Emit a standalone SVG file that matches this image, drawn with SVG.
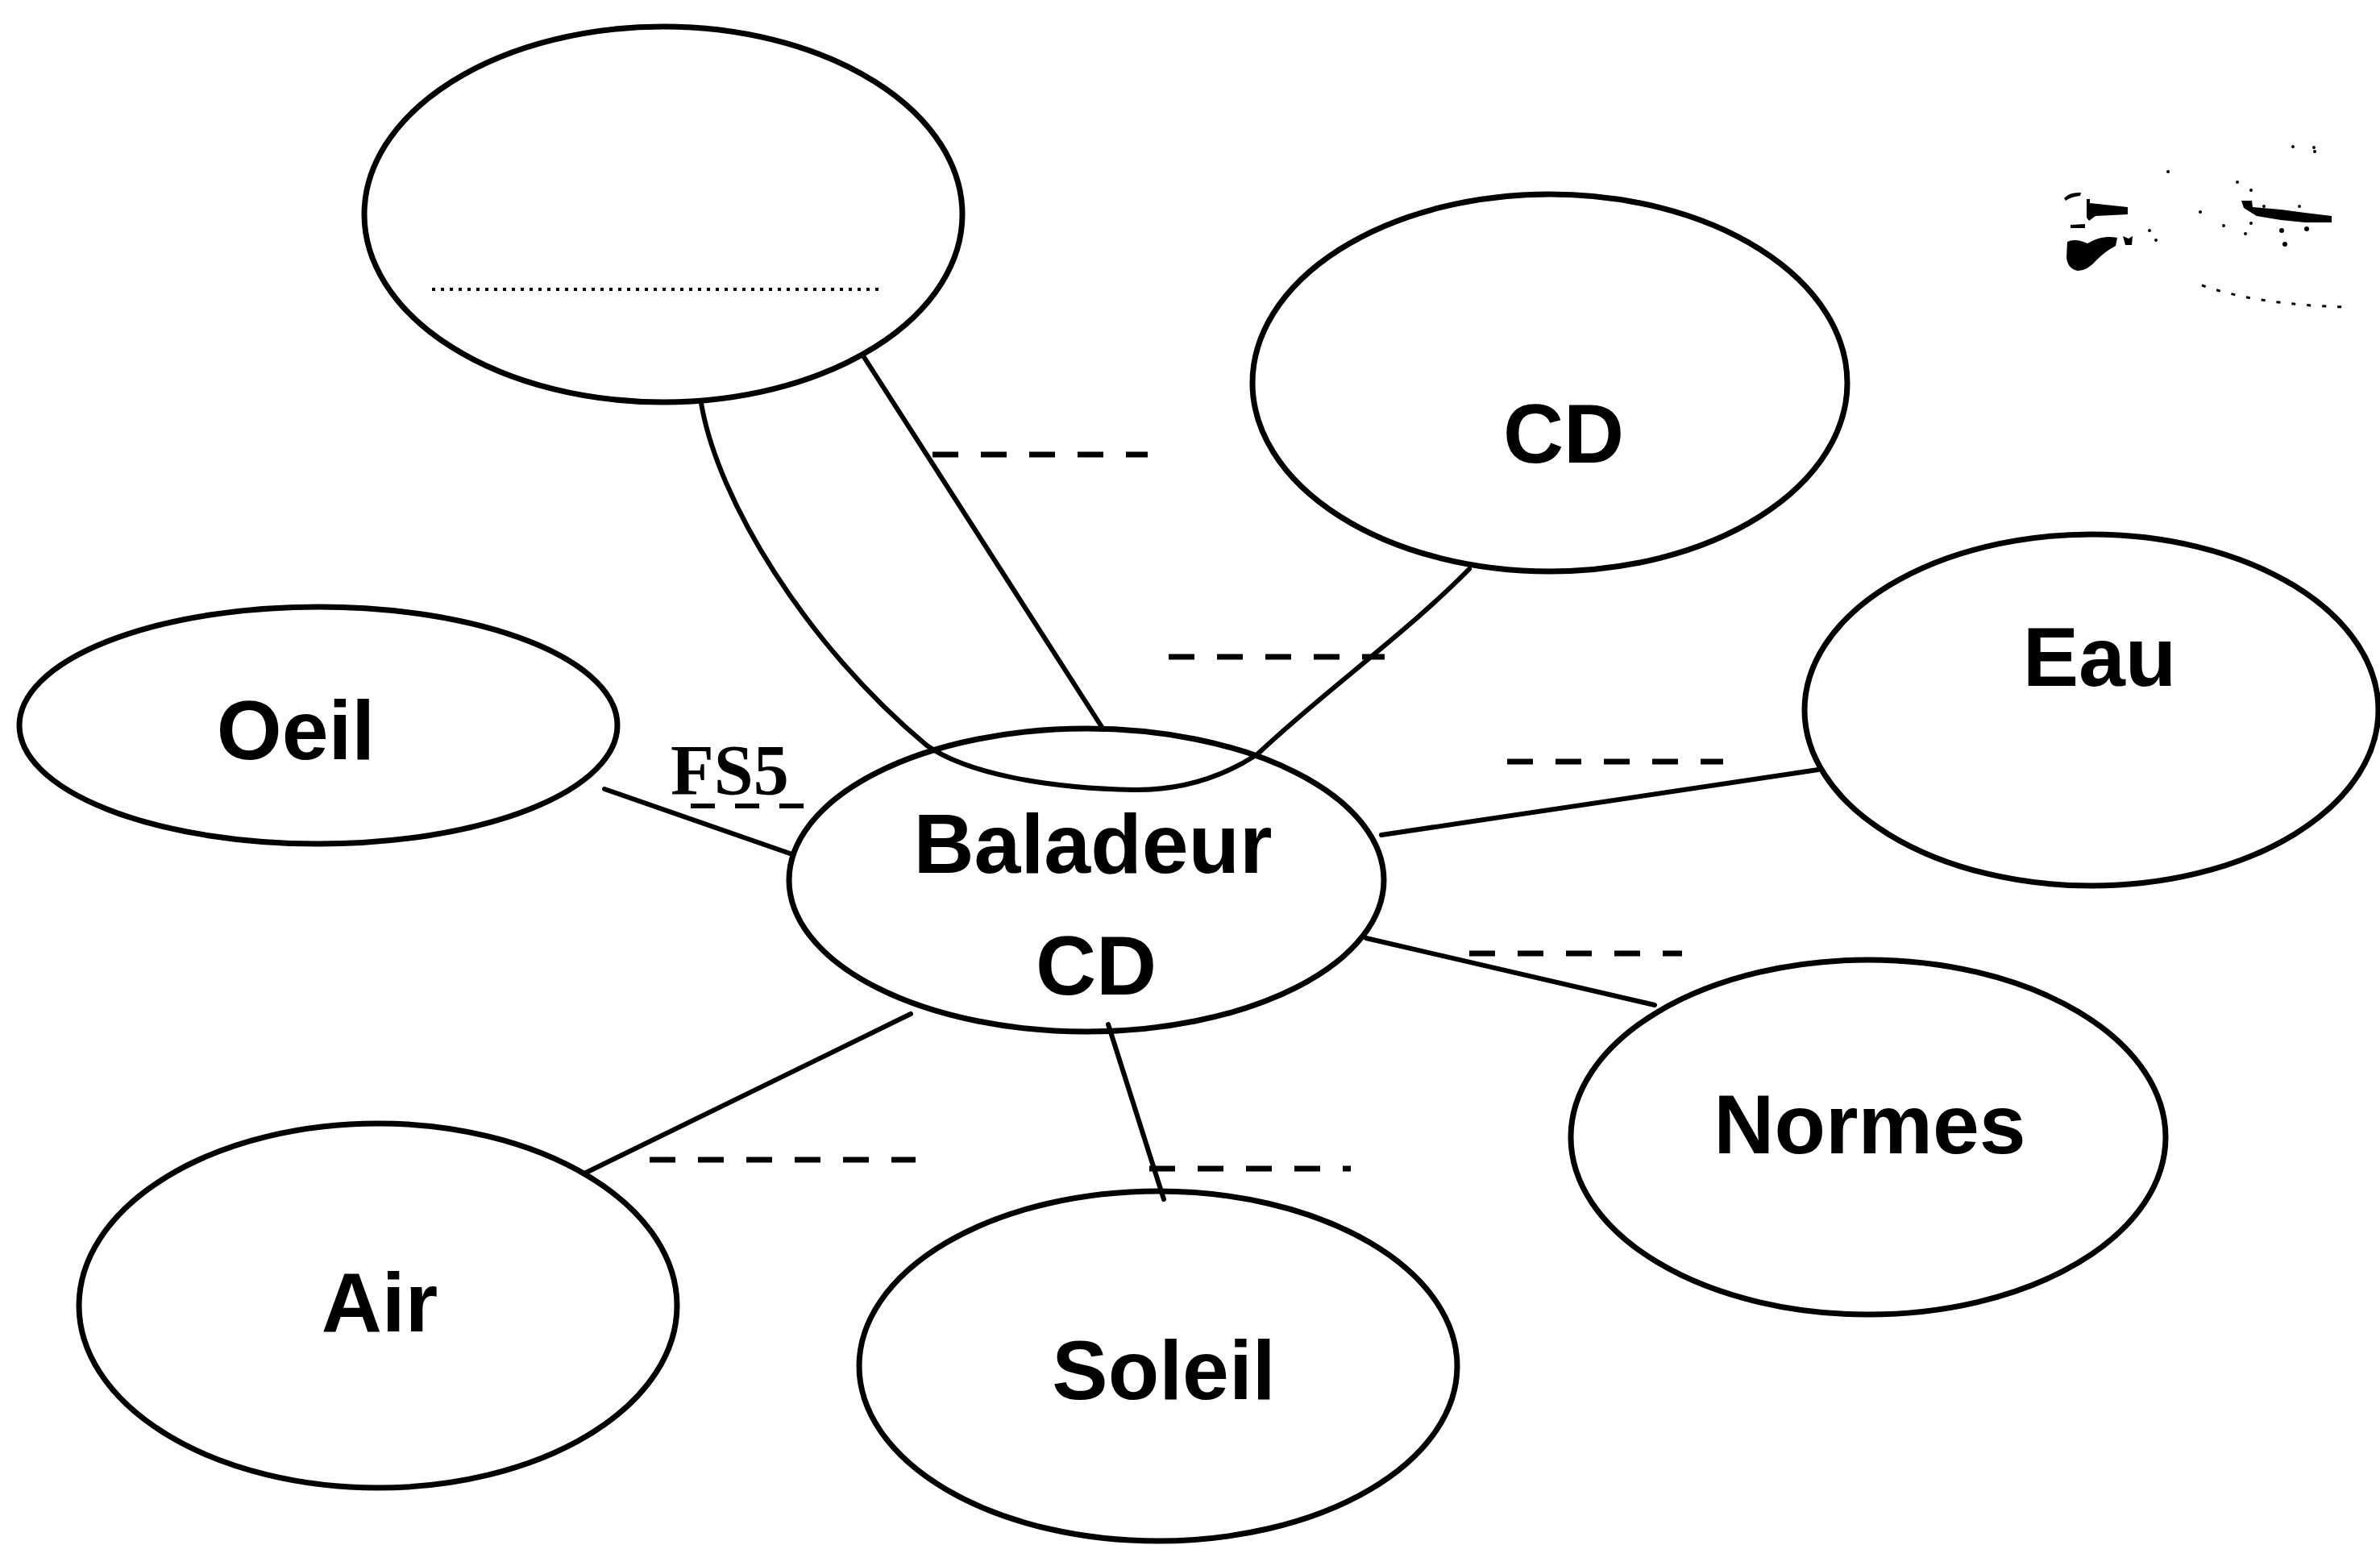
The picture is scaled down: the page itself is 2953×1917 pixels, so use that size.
<svg xmlns="http://www.w3.org/2000/svg" width="2953" height="1917" viewBox="0 0 2953 1917">
<style>
.node{fill:none;stroke:#000;stroke-width:7}
.lbl{font-family:"Liberation Sans",Arial,sans-serif;font-weight:bold;font-size:104px;text-anchor:middle;fill:#000}
.con{fill:none;stroke:#000;stroke-width:6;stroke-linecap:round;stroke-linejoin:round}
.dash{fill:none;stroke:#000;stroke-width:7;stroke-dasharray:32 28}
</style>
<rect width="2953" height="1917" fill="#fff"/>
<g id="connectors">
<path class="con" d="M1070 440 L1369 905"/>
<path class="con" d="M870 500 C890 620 1000 800 1150 925 C1200 960 1300 978 1406 980 C1470 981 1520 962 1560 936 C1640 860 1740 790 1823 706"/>
<path class="con" d="M750 979 L983 1060"/>
<path class="con" d="M2256 955 L1714 1036"/>
<path class="con" d="M2053 1247 L1695 1164"/>
<path class="con" d="M725 1456 L1130 1258"/>
<path class="con" d="M1375 1271 L1444 1488"/>
<path class="dash" d="M1157 564 H1424"/>
<path class="dash" d="M1450 815 H1718"/>
<path class="dash" d="M1870 945 H2138"/>
<path class="dash" d="M1823 1183 H2087"/>
<path class="dash" d="M806 1439 H1136"/>
<path class="dash" d="M1426 1450 H1676"/>
<path fill="none" stroke="#000" stroke-width="6" stroke-dasharray="30 25" d="M857 1000 H1000"/>
<text x="832" y="985" font-family="'Liberation Serif','Times New Roman',serif" font-weight="bold" font-size="88">FS5</text>
</g>
<g id="node-top">
<ellipse class="node" cx="823" cy="266" rx="371" ry="233"/>
<path d="M536 359 H1090" stroke="#000" stroke-width="4" stroke-dasharray="4 7" fill="none"/>
</g>
<g id="node-cd">
<ellipse class="node" cx="1923" cy="475" rx="369" ry="234"/>
<text class="lbl" x="1940" y="574">CD</text>
</g>
<g id="node-eau">
<ellipse class="node" cx="2595" cy="881" rx="356" ry="218"/>
<text class="lbl" x="2605" y="851">Eau</text>
</g>
<g id="node-oeil">
<ellipse class="node" cx="395" cy="900" rx="371" ry="147"/>
<text class="lbl" x="367" y="942">Oeil</text>
</g>
<g id="node-baladeur">
<ellipse class="node" cx="1348" cy="1092" rx="369" ry="188"/>
<text class="lbl" x="1356" y="1083" font-size="110">Baladeur</text>
<text class="lbl" x="1360" y="1234" font-size="110">CD</text>
</g>
<g id="node-normes">
<ellipse class="node" cx="2318" cy="1411" rx="369" ry="220"/>
<text class="lbl" x="2320" y="1431">Normes</text>
</g>
<g id="node-air">
<ellipse class="node" cx="469" cy="1620" rx="371" ry="226"/>
<text class="lbl" x="471" y="1652">Air</text>
</g>
<g id="node-soleil">
<ellipse class="node" cx="1437" cy="1695" rx="371" ry="217"/>
<text class="lbl" x="1444" y="1736">Soleil</text>
</g>
<g id="smudge" fill="#000">
<path d="M2561 246 Q2568 238 2582 239 L2581 243 Q2570 244 2563 249 Z"/>
<path d="M2589 247 L2593 247 L2593 252 L2640 257 L2640 266 L2600 268 L2592 274 L2589 270 Z"/>
<path d="M2569 279 L2587 278 L2587 283 L2569 283 Z"/>
<path d="M2565 300 Q2575 295 2590 302 L2598 298 Q2612 292 2627 295 L2625 305 Q2612 312 2602 322 Q2590 336 2578 336 Q2566 334 2564 320 Z"/>
<path d="M2634 293 L2641 296 L2646 293 L2645 304 L2637 304 Z"/>
<path d="M2781 249 L2794 249 L2795 257 L2830 260 L2860 264 L2893 268 L2893 276 L2860 276 L2830 273 L2800 268 L2784 258 Z"/>
<g fill="none" stroke="#000" stroke-width="3" stroke-dasharray="5 14">
<path d="M2732 354 Q2800 378 2910 381"/>
</g>
<circle cx="2690" cy="213" r="2"/><circle cx="2776" cy="226" r="2"/><circle cx="2793" cy="236" r="2"/>
<circle cx="2730" cy="263" r="2"/><circle cx="2759" cy="280" r="2"/><circle cx="2793" cy="277" r="2"/>
<circle cx="2786" cy="290" r="2"/><circle cx="2831" cy="286" r="3"/><circle cx="2835" cy="303" r="3"/>
<circle cx="2862" cy="284" r="3"/><circle cx="2667" cy="286" r="2"/><circle cx="2675" cy="298" r="2"/>
<circle cx="2845" cy="182" r="2"/><circle cx="2871" cy="183" r="2"/><circle cx="2872" cy="188" r="2"/>
<circle cx="2809" cy="256" r="2"/><circle cx="2853" cy="256" r="2"/>
</g>
</svg>
